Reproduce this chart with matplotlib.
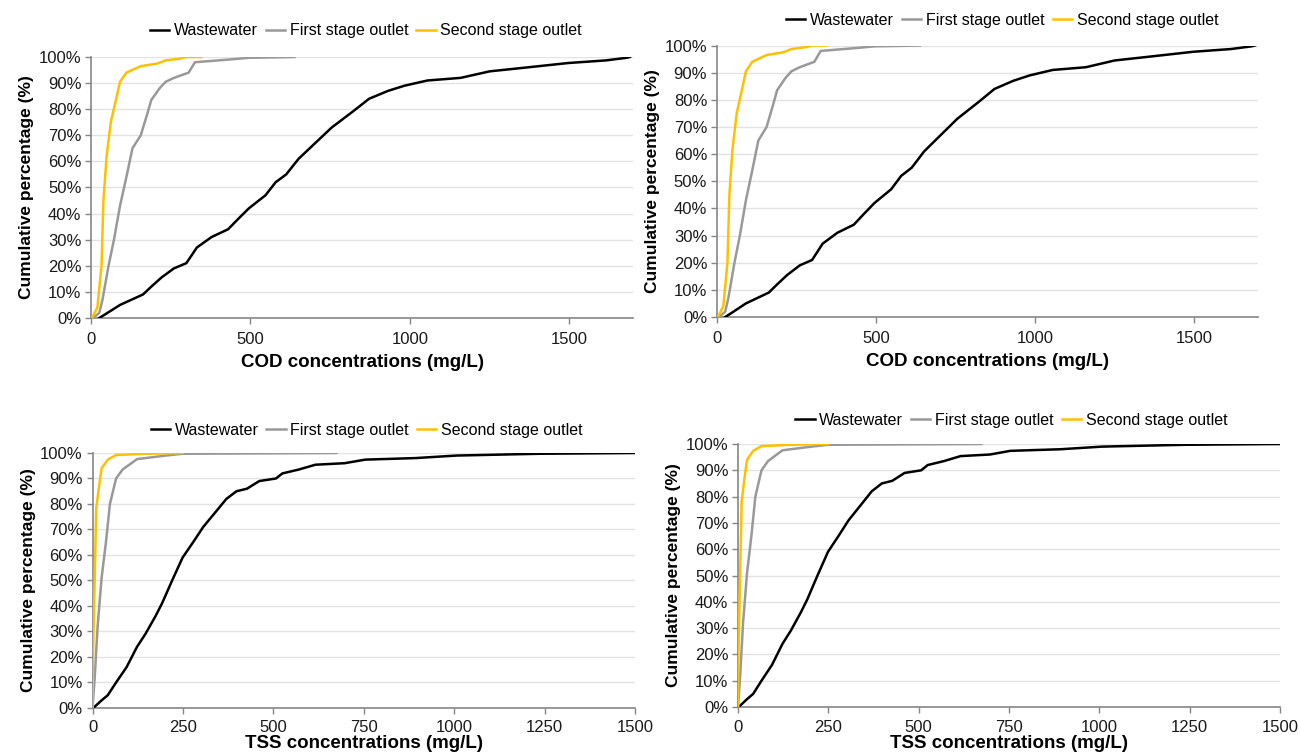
import matplotlib
matplotlib.use("Agg")
import matplotlib.pyplot as plt
from matplotlib.ticker import FuncFormatter

plt.rcParams['font.family'] = ['Liberation Sans', 'DejaVu Sans']

# ---- COD data (concentration mg/L, cumulative %) ----
cod_ww_x = [26, 46, 91, 163, 189, 221, 260, 299, 332, 378, 430, 462, 495, 547, 579, 612,
            651, 703, 755, 820, 872, 931, 983, 1055, 1159, 1250, 1367, 1497, 1615, 1680, 1690]
cod_ww_y = [0, 1.5, 5, 9, 12, 15.5, 19, 21, 27, 31, 34, 38, 42, 47, 52, 55,
            61, 67, 73, 79, 84, 87, 89, 91, 92, 94.5, 96, 97.7, 98.7, 99.7, 100]

cod_s1_x = [7, 26, 36, 55, 72, 91, 111, 130, 156, 176, 189, 215, 234, 260, 306, 326, 430, 495, 638]
cod_s1_y = [0, 2, 7, 20, 30, 43, 54, 65, 70, 78, 83.5, 88, 90.5, 92, 94, 98, 99, 99.7, 100]

cod_s2_x = [3, 20, 33, 39, 49, 62, 78, 91, 111, 156, 208, 234, 280, 299, 345]
cod_s2_y = [0, 4, 20, 45, 62, 75, 83.5, 90.5, 94, 96.5, 97.5, 98.7, 99.4, 100, 100]

# ---- TSS data ----
tss_ww_x = [2, 25, 42, 65, 94, 123, 146, 174, 192, 220, 249, 278, 306, 341, 370, 398, 427,
            461, 507, 525, 570, 616, 697, 754, 892, 1007, 1236, 1500]
tss_ww_y = [0, 3, 5, 10, 16, 24, 29, 36, 41, 50, 59, 65, 71, 77, 82, 85, 86,
            89, 90, 92, 93.5, 95.4, 96, 97.4, 98, 99, 99.7, 100]

tss_s1_x = [0, 6, 14, 25, 37, 48, 65, 83, 123, 203, 249, 674]
tss_s1_y = [0, 12, 32, 51, 65, 80, 90, 93.5, 97.6, 99, 99.7, 100]

tss_s2_x = [0, 1, 6, 10, 17, 25, 42, 65, 146, 249]
tss_s2_y = [0, 19, 51, 78, 86, 94, 97.4, 99.2, 99.7, 100]

series_names = ["Wastewater", "First stage outlet", "Second stage outlet"]
series_colors = ["#000000", "#999999", "#FFC000"]

fig = plt.figure(figsize=(13, 7.56), dpi=100)

panels = [
    ([0.070, 0.5794, 0.417, 0.3452], 1700, [0, 500, 1000, 1500], "COD concentrations (mg/L)",
     [(cod_ww_x, cod_ww_y), (cod_s1_x, cod_s1_y), (cod_s2_x, cod_s2_y)], (0.2815, 0.959), 5),
    ([0.5515, 0.5807, 0.4162, 0.3591], 1700, [0, 500, 1000, 1500], "COD concentrations (mg/L)",
     [(cod_ww_x, cod_ww_y), (cod_s1_x, cod_s1_y), (cod_s2_x, cod_s2_y)], (0.771, 0.9735), 5),
    ([0.0712, 0.0635, 0.4173, 0.3373], 1500, [0, 250, 500, 750, 1000, 1250, 1500], "TSS concentrations (mg/L)",
     [(tss_ww_x, tss_ww_y), (tss_s1_x, tss_s1_y), (tss_s2_x, tss_s2_y)], (0.282, 0.431), 0),
    ([0.5677, 0.0648, 0.4169, 0.3479], 1500, [0, 250, 500, 750, 1000, 1250, 1500], "TSS concentrations (mg/L)",
     [(tss_ww_x, tss_ww_y), (tss_s1_x, tss_s1_y), (tss_s2_x, tss_s2_y)], (0.778, 0.444), 0),
]

for rect, xmax, xticks, xlabel, data, leg_pos, lpad in panels:
    ax = fig.add_axes(rect)
    lines = []
    for (xs, ys), name, col in zip(data, series_names, series_colors):
        ln, = ax.plot(xs, ys, color=col, lw=1.8, label=name, zorder=3)
        lines.append(ln)
    ax.set_xlim(0, xmax)
    ax.set_ylim(0, 100)
    ax.set_xticks(xticks)
    ax.set_yticks(range(0, 101, 10))
    ax.yaxis.set_major_formatter(FuncFormatter(lambda v, p: f"{int(v)}%"))
    ax.grid(axis='y', color='#E3E3E3', lw=1, zorder=0)
    ax.set_axisbelow(True)
    for s in ['top', 'right']:
        ax.spines[s].set_visible(False)
    for s in ['left', 'bottom']:
        ax.spines[s].set_color('#868686')
        ax.spines[s].set_linewidth(1.2)
    ax.tick_params(axis='both', direction='out', length=4, width=1, color='#868686',
                   labelsize=12, labelcolor='#1a1a1a', pad=3)
    ax.tick_params(axis='x', pad=5 if lpad == 0 else 6)
    ax.set_xlabel(xlabel, fontsize=13.5, fontweight='bold', labelpad=lpad)
    ax.set_ylabel("Cumulative percentage (%)", fontsize=12.5, fontweight='bold', labelpad=3)
    fig.legend(handles=lines, loc='center', bbox_to_anchor=leg_pos, ncol=3, frameon=False,
               fontsize=11.5, handlelength=1.2, handletextpad=0.3, columnspacing=0.5,
               borderaxespad=0)

fig.savefig("out.png", dpi=100)
